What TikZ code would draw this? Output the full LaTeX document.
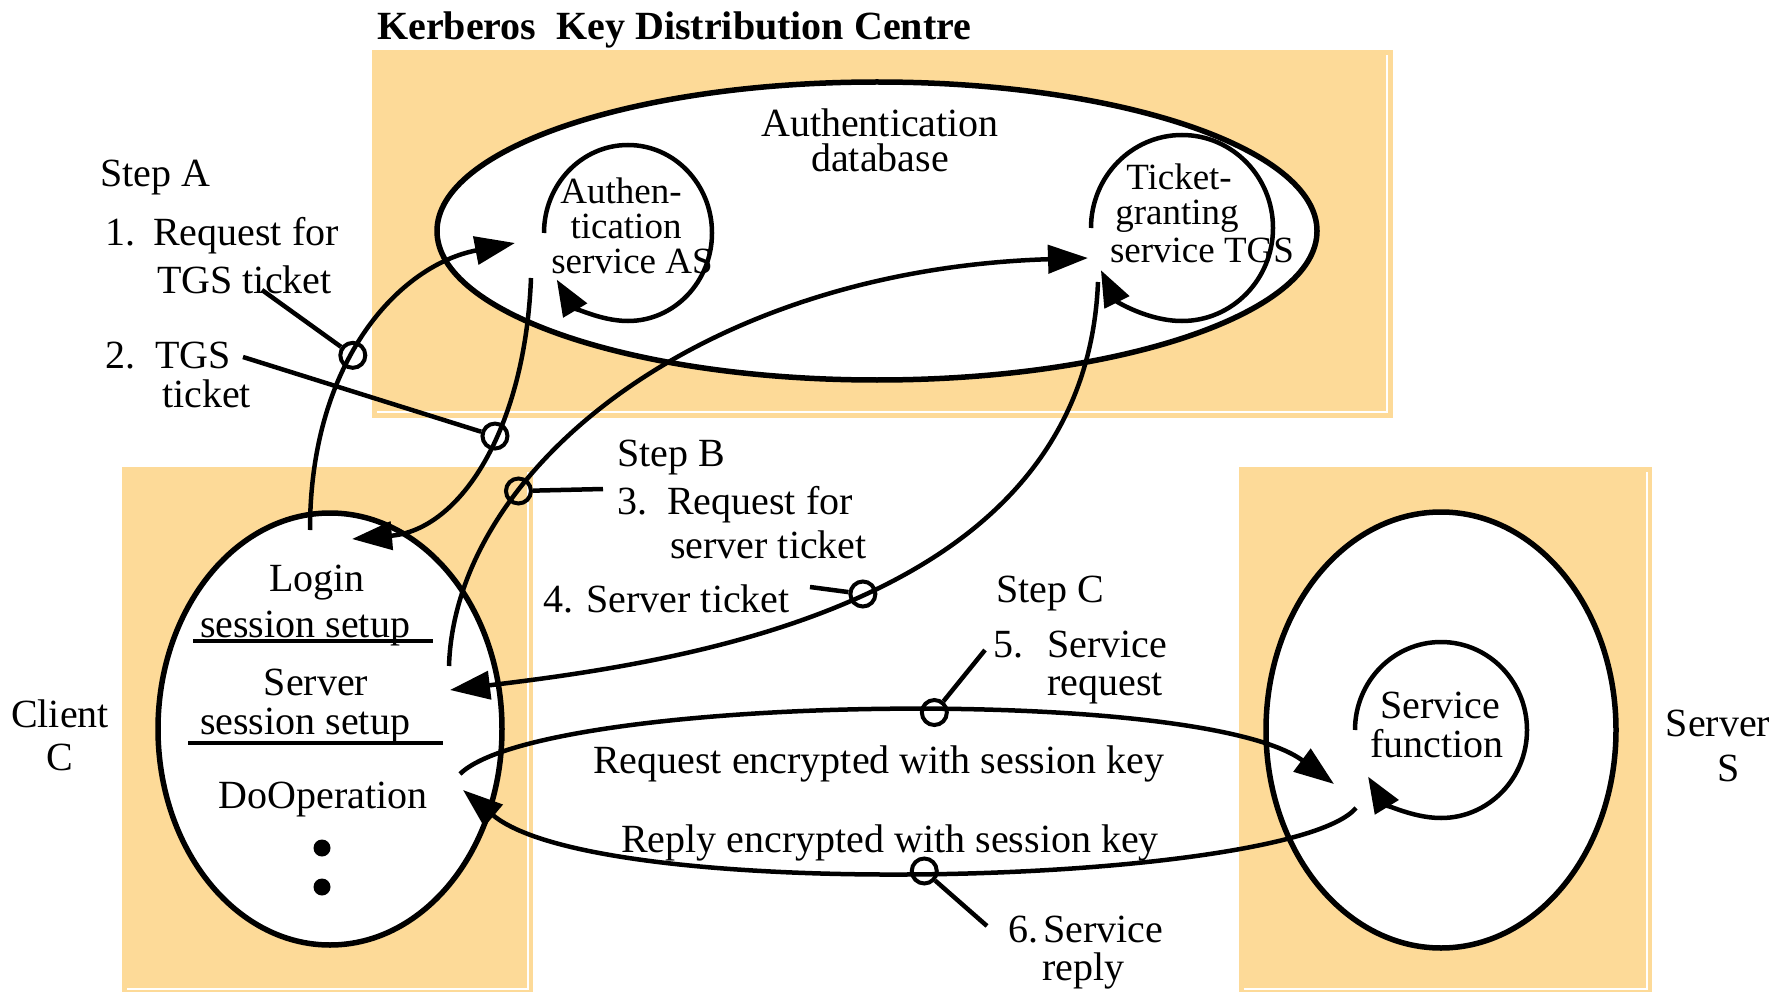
\documentclass[tikz,border=0pt]{standalone}
\usepackage{fontspec}
\setmainfont{Liberation Serif}
\usetikzlibrary{arrows.meta,shapes.geometric}
\definecolor{kdcfill}{RGB}{253,218,152}
\newcommand{\bigf}{\fontsize{40}{40}\selectfont}
\newcommand{\dbf}{\fontsize{40}{35}\selectfont}
\newcommand{\smf}{\fontsize{37}{37}\selectfont}
\begin{document}
\begin{tikzpicture}[x=1pt,y=-1pt,
  region/.style={fill=kdcfill,draw=none},
  inset/.style={draw=white,line width=1.5pt},
  blob/.style={ellipse,draw=black,line width=5.5pt,fill=white,inner sep=0pt},
  conn/.style={line width=4.5pt,-{Triangle[length=40pt,width=28pt]}},
  loopc/.style={line width=4.5pt,-{Triangle[length=36pt,width=27pt]}},
  ring/.style={circle,draw=black,line width=4pt,minimum size=25pt,inner sep=0pt},
  lead/.style={line width=4.5pt},
  sep/.style={line width=4.5pt},
  txt/.style={inner sep=0pt,font=\bigf},
  stxt/.style={inner sep=0pt,font=\smf},
  dot/.style={circle,fill=black,minimum size=17pt,inner sep=0pt}]
\useasboundingbox (0,0) rectangle (1780,992);

% regions
\fill[region] (372,50) rectangle (1393,418);
\draw[inset] (377,412) -- (1387,412) -- (1387,55);
\fill[region] (122,467) rectangle (533,992);
\draw[inset] (127,989) -- (528,989) -- (528,472);
\fill[region] (1239,467) rectangle (1652,992);
\draw[inset] (1244,989) -- (1647,989) -- (1647,472);

\node[txt,anchor=base west,font=\bigf\bfseries] (title) at (377,40) {Kerberos\ \ Key Distribution Centre};

% ellipses
\node[blob,minimum width=880pt,minimum height=298pt] (kdcdb) at (877,231) {};
\node[blob,minimum width=344pt,minimum height=432pt] (client) at (330,729) {};
\node[blob,minimum width=350pt,minimum height=436pt] (server) at (1441,730) {};

% KDC texts
\node[txt,font=\dbf,align=center] (db) at (880,140) {Authentication\\database};
\node[stxt,anchor=base] (as1) at (621,204) {Authen-};
\node[stxt,anchor=base] (as2) at (626,239) {tication};
\node[stxt,anchor=base] (as3) at (632,274) {service AS};
\node[stxt,anchor=base] (tg1) at (1179,190) {Ticket-};
\node[stxt,anchor=base] (tg2) at (1177,225) {granting};
\node[stxt,anchor=base] (tg3) at (1202,263) {service TGS};

% loops
\coordinate (as) at (628,233);
\coordinate (tgs) at (1182,228);
\coordinate (sf) at (1441,730);
\draw[loopc] (as) ++(180:84 and 88) arc[start angle=180,end angle=508,x radius=84,y radius=88];
\draw[loopc] (tgs) ++(180:91 and 93) arc[start angle=180,end angle=513,x radius=91,y radius=93];
\draw[loopc] (sf) ++(180:86 and 88) arc[start angle=180,end angle=508,x radius=86,y radius=88];

% client texts
\node[txt,anchor=base] (login) at (317,591) {Login};
\node[txt,anchor=base] (ls) at (305,637) {session setup};
\draw[sep] (193,641) -- (433,641);
\node[txt,anchor=base] (srv) at (316,695) {Server};
\node[txt,anchor=base] (ss) at (305,734) {session setup};
\draw[sep] (188,743) -- (443,743);
\node[txt,anchor=base] (doop) at (323,808) {DoOperation};
\node[dot] (d1) at (322,848) {};
\node[dot] (d2) at (322,887) {};

% server texts
\node[txt,anchor=base] (sf1) at (1440,718) {Service};
\node[txt,anchor=base] (sf2) at (1437,757) {function};

% side labels
\node[txt,anchor=base] (cl1) at (60,727) {Client};
\node[txt,anchor=base] (cl2) at (60,770) {C};
\node[txt,anchor=base] (sv1) at (1718,736) {Server};
\node[txt,anchor=base] (sv2) at (1729,781) {S};

% step labels
\node[txt,anchor=base west] (stA) at (100,187) {Step A};
\node[txt,anchor=base west] (l1a) at (105,246) {1.\hspace{18pt}Request for};
\node[txt,anchor=base west] (l1b) at (157,294) {TGS ticket};
\node[txt,anchor=base west] (l2a) at (105,368) {2.\hspace{20pt}TGS};
\node[txt,anchor=base west] (l2b) at (162,407) {ticket};
\node[txt,anchor=base west] (stB) at (617,466) {Step B};
\node[txt,anchor=base west] (l3a) at (617,514) {3.\hspace{20pt}Request for};
\node[txt,anchor=base west] (l3b) at (670,558) {server ticket};
\node[txt,anchor=base west] (l4) at (543,612) {4. Server ticket};
\node[txt,anchor=base west] (stC) at (996,602) {Step C};
\node[txt,anchor=base west] (l5a) at (993,657) {5.\hspace{24pt}Service};
\node[txt,anchor=base west] (l5b) at (1047,695) {request};
\node[txt,anchor=base west] (req) at (593,773) {Request encrypted with session key};
\node[txt,anchor=base west] (rep) at (621,852) {Reply encrypted with session key};
\node[txt,anchor=base west] (l6a) at (1008,942) {6.\hspace{5pt}Service};
\node[txt,anchor=base west] (l6b) at (1042,980) {reply};

% connector ends
\coordinate (a1s) at (310,530); \coordinate (a1e) at (515,243);
\coordinate (a2s) at (531,278); \coordinate (a2e) at (352,539);
\coordinate (a3s) at (449,666); \coordinate (a3e) at (1088,258);
\coordinate (a4s) at (1098,282); \coordinate (a4e) at (450,690);
\coordinate (a5s) at (460,774); \coordinate (a5e) at (1334,784);
\coordinate (a6s) at (1356,808); \coordinate (a6e) at (463,790);

\draw[conn] (a1s) .. controls (310,360) and (400,265) .. node[ring,pos=0.42] (r1) {} (a1e);
\draw[conn] (a2s) .. controls (525,430) and (460,530) .. node[ring,pos=0.41] (r2) {} (a2e);
\draw[conn] (a3s) .. controls (455,470) and (700,270) .. node[ring,pos=0.305] (r3) {} (a3e);
\draw[conn] (a4s) .. controls (1085,600) and (700,660) .. node[ring,pos=0.5] (r4) {} (a4e);
\draw[conn] (a5s) .. controls (540,695) and (1200,684) .. node[ring,pos=0.55] (r5) {} (a5e);
\draw[conn] (a6s) .. controls (1290,885) and (600,905) .. node[ring,pos=0.51] (r6) {} (a6e);

% leaders
\coordinate (k1) at (262,290);
\coordinate (k2) at (243,357);
\coordinate (k3) at (603,489);
\coordinate (k4) at (810,587);
\coordinate (k5) at (985,650);
\coordinate (k6) at (987,926);
\draw[lead] (k1) -- (r1);
\draw[lead] (k2) -- (r2);
\draw[lead] (r3) -- (k3);
\draw[lead] (k4) -- (r4);
\draw[lead] (r5) -- (k5);
\draw[lead] (r6) -- (k6);
\end{tikzpicture}
\end{document}
